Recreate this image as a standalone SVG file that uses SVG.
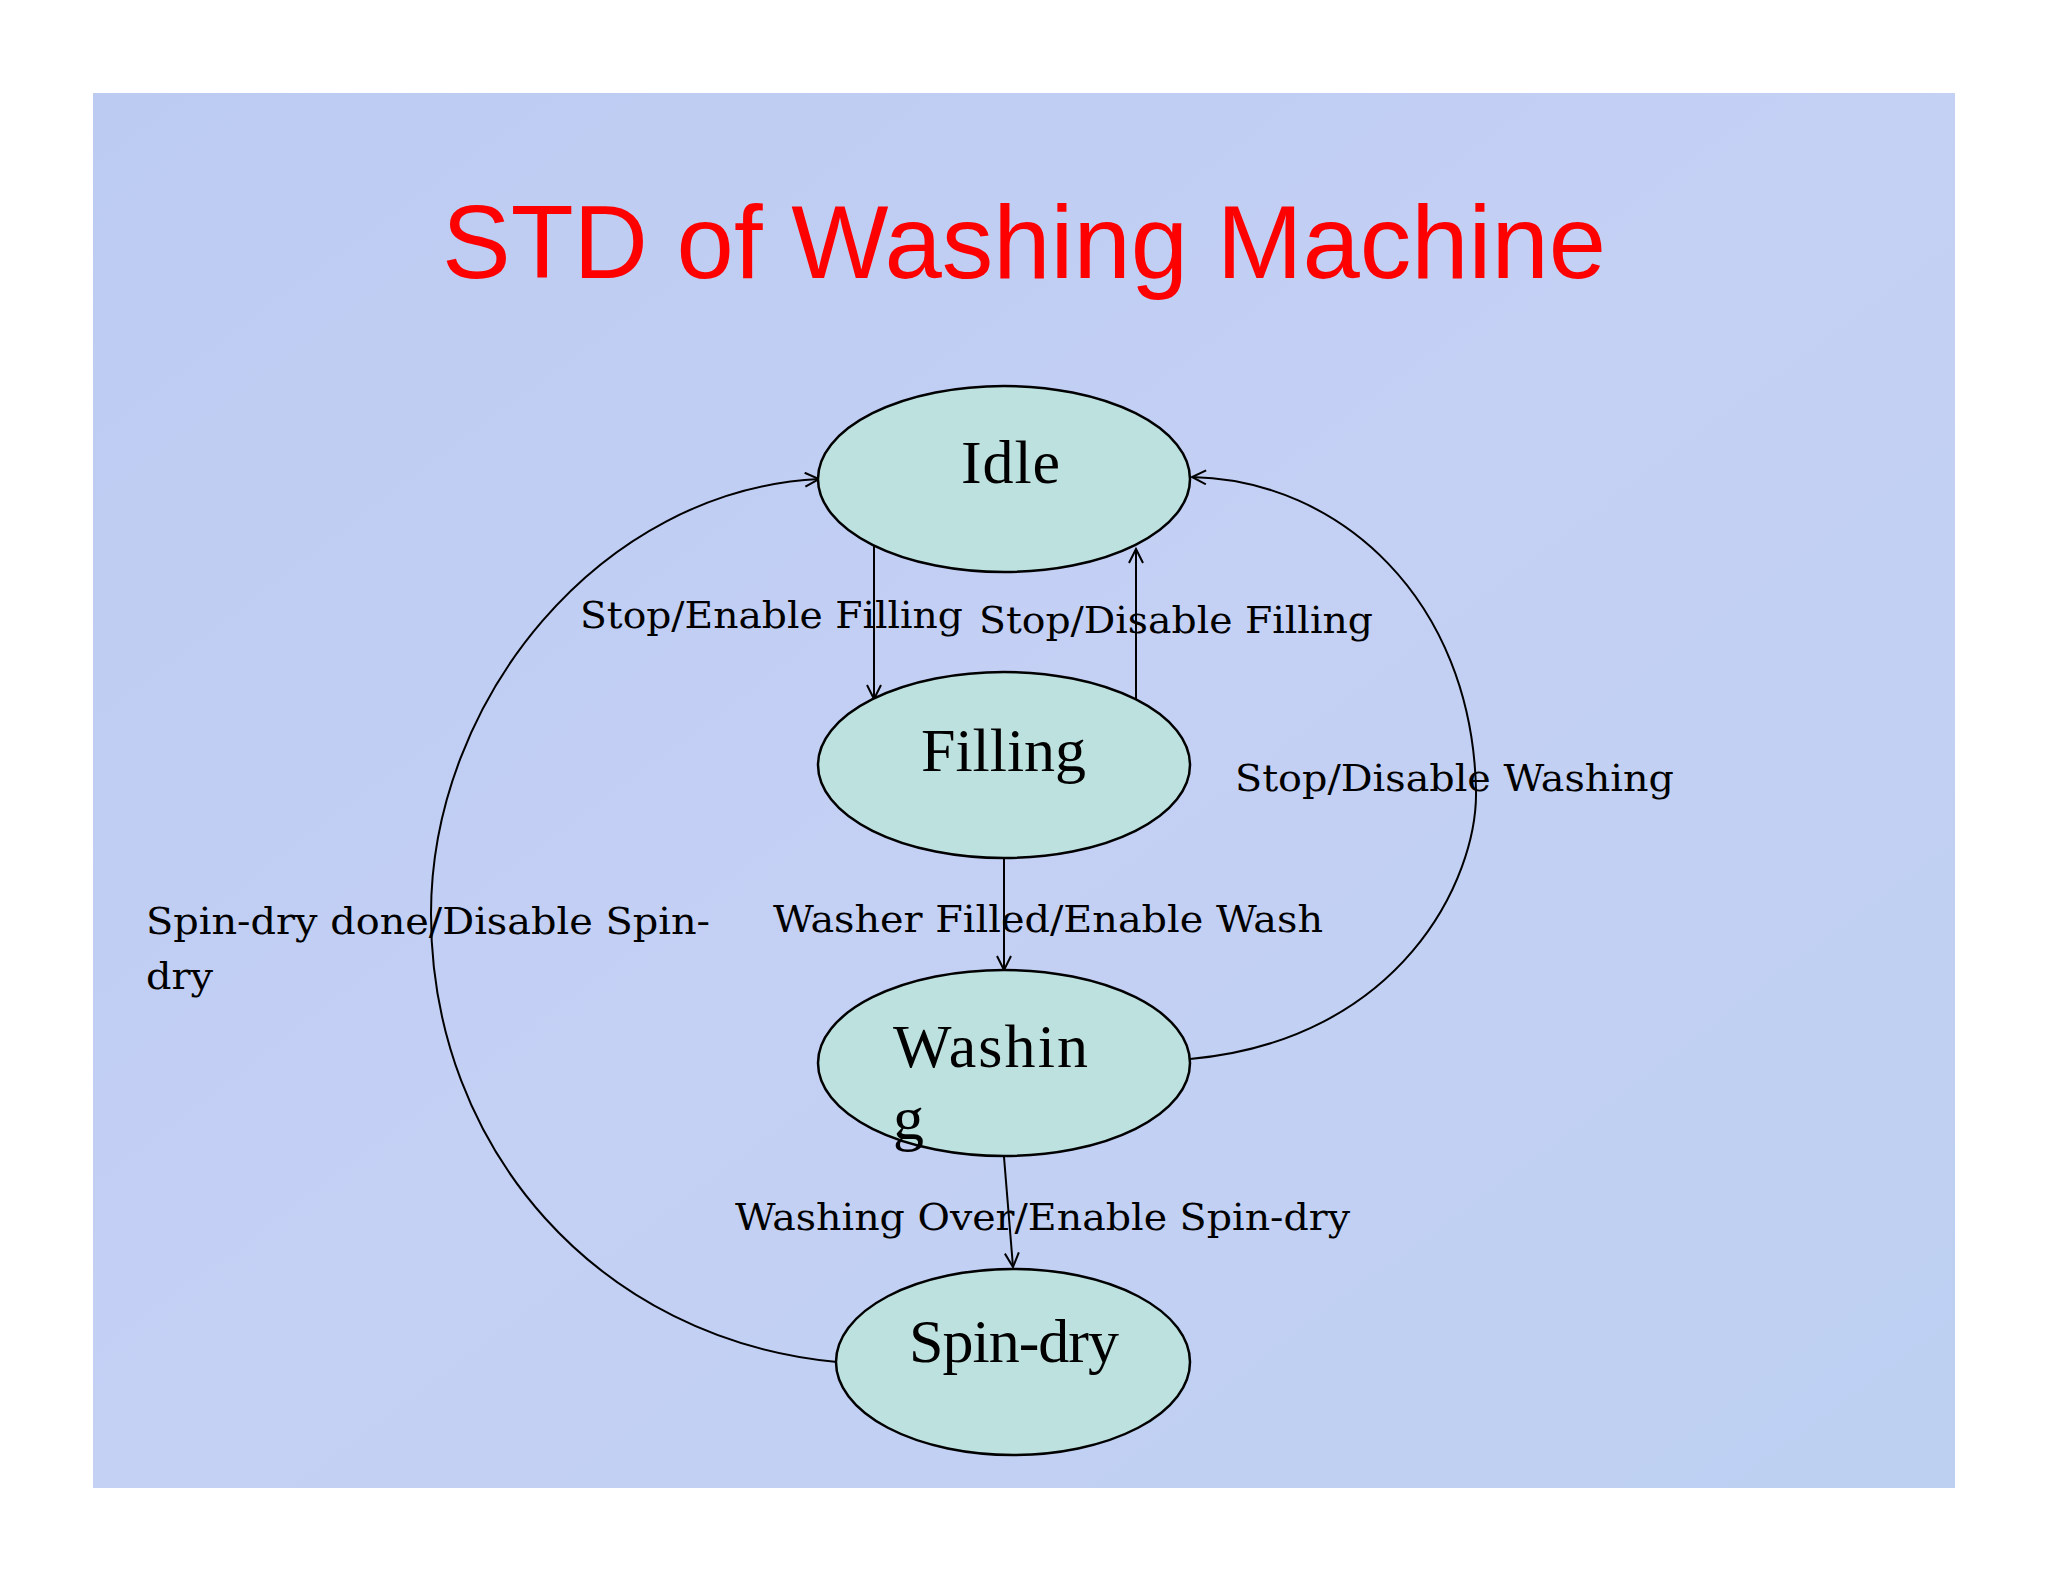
<svg xmlns="http://www.w3.org/2000/svg" width="2048" height="1582" viewBox="0 0 2048 1582">
<style>
.st{fill:#bde1df;stroke:#000;stroke-width:2.5}
.nl{font-family:"Liberation Serif",serif;font-size:62px;fill:#000}
.el{font-family:"DejaVu Serif",serif;font-size:38px;fill:#000}
.c{fill:none;stroke:#000;stroke-width:2}
</style>
<defs>
<marker id="a" markerWidth="20" markerHeight="20" refX="16" refY="8" orient="auto" markerUnits="userSpaceOnUse">
<path d="M2,1 L16,8 L2,15" fill="none" stroke="#000" stroke-width="2"/>
</marker>
<linearGradient id="bg" x1="0" y1="0" x2="1" y2="1">
<stop offset="0" stop-color="#bccbf2"/><stop offset="0.5" stop-color="#c4d0f4"/><stop offset="1" stop-color="#bdd0f2"/>
</linearGradient>
</defs>
<rect width="2048" height="1582" fill="#fff"/>
<rect x="93" y="93" width="1862" height="1395" fill="url(#bg)"/>
<text x="1024" y="278" text-anchor="middle" font-family="Liberation Sans,sans-serif" font-size="103" fill="#ff0000">STD of Washing Machine</text>
<g id="connectors">
<line class="c" x1="874" y1="546" x2="874" y2="699" marker-end="url(#a)"/>
<line class="c" x1="1136" y1="699" x2="1136" y2="549" marker-end="url(#a)"/>
<line class="c" x1="1004" y1="858" x2="1004" y2="970" marker-end="url(#a)"/>
<line class="c" x1="1004" y1="1157" x2="1013" y2="1267" marker-end="url(#a)"/>
<path class="c" d="M1190,1059 C1400,1040 1478,880 1476,790 C1472,600 1340,480 1192,477" marker-end="url(#a)"/>
<path class="c" d="M837,1362 C600,1340 431,1150 431,914 C431,700 600,490 819,479" marker-end="url(#a)"/>
</g>
<g id="idle"><ellipse class="st" cx="1004" cy="479" rx="186" ry="93"/><text class="nl" x="961" y="483" textLength="99">Idle</text></g>
<g id="filling"><ellipse class="st" cx="1004" cy="765" rx="186" ry="93"/><text class="nl" x="921" y="771" textLength="165">Filling</text></g>
<g id="washing"><ellipse class="st" cx="1004" cy="1063" rx="186" ry="93"/><text class="nl" x="893" y="1067" textLength="195">Washin</text><text class="nl" x="893" y="1139">g</text></g>
<g id="spindry"><ellipse class="st" cx="1013" cy="1362" rx="177" ry="93"/><text class="nl" x="909" y="1362" textLength="210">Spin-dry</text></g>
<g id="labels">
<text class="el" x="580" y="628" textLength="383" lengthAdjust="spacingAndGlyphs">Stop/Enable Filling</text>
<text class="el" x="979" y="633" textLength="394" lengthAdjust="spacingAndGlyphs">Stop/Disable Filling</text>
<text class="el" x="1235" y="791" textLength="439" lengthAdjust="spacingAndGlyphs">Stop/Disable Washing</text>
<text class="el" x="146" y="934" textLength="564" lengthAdjust="spacingAndGlyphs">Spin-dry done/Disable Spin-</text>
<text class="el" x="146" y="989" textLength="67" lengthAdjust="spacingAndGlyphs">dry</text>
<text class="el" x="773" y="932" textLength="550" lengthAdjust="spacingAndGlyphs">Washer Filled/Enable Wash</text>
<text class="el" x="735" y="1230" textLength="615" lengthAdjust="spacingAndGlyphs">Washing Over/Enable Spin-dry</text>
</g>
</svg>
